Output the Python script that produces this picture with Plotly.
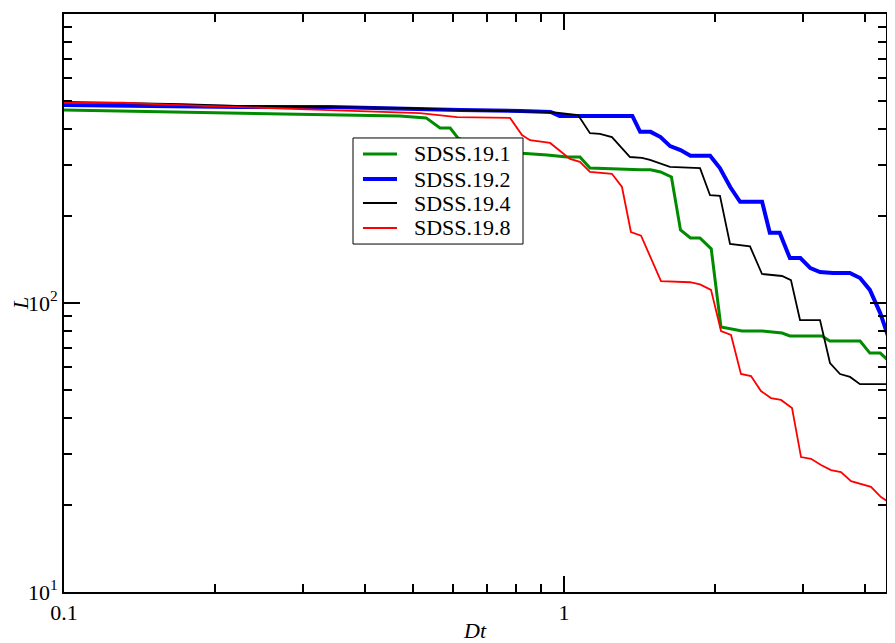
import plotly.graph_objects as go

# Dt values and L values (log-log)
dt_191 = [0.1, 0.157, 0.223, 0.328, 0.47, 0.53, 0.565, 0.592, 0.614, 0.68, 0.76, 0.824,
          0.925, 1.014, 1.076, 1.127, 1.42, 1.49, 1.56, 1.64, 1.71, 1.79, 1.87, 1.97,
          2.06, 2.27, 2.49, 2.73, 2.83, 3.28, 3.40, 3.91, 4.09, 4.29, 4.51]
L_191 = [465, 459, 454, 451, 444, 437, 403, 403, 372, 344, 336, 330,
         325, 320, 320, 293, 289, 289, 284, 273, 179, 168, 168, 154,
         82.6, 80, 80, 78.7, 76.9, 76.9, 73.9, 73.9, 67.1, 67.1, 62]

dt_192 = [0.1, 0.131, 0.223, 0.34, 0.47, 0.62, 0.82, 0.94, 0.98, 1.37, 1.42, 1.49,
          1.56, 1.63, 1.71, 1.79, 1.96, 2.05, 2.15, 2.25, 2.49, 2.58, 2.70, 2.83,
          2.97, 3.11, 3.25, 3.45, 3.73, 3.91, 4.09, 4.29, 4.51]
L_192 = [484, 481, 477, 477, 469, 465, 462, 458, 444, 444, 391, 391,
         375, 349, 338, 323, 323, 293, 252, 224, 224, 175, 175, 143,
         143, 132, 128, 127, 127, 122, 111, 92.3, 71.6]

dt_194 = [0.1, 0.172, 0.22, 0.47, 0.628, 0.938, 1.067, 1.127, 1.18, 1.247, 1.355, 1.432,
          1.486, 1.629, 1.871, 1.959, 2.051, 2.148, 2.355, 2.489, 2.729, 2.844, 2.965,
          3.251, 3.404, 3.565, 3.733, 3.908, 4.51]
L_194 = [496, 488, 481, 473, 465, 458, 447, 387, 385, 375, 320, 318,
         313, 296, 293, 236, 235, 160, 157, 126, 124, 120, 87.3,
         87.3, 62, 56.8, 55.5, 52.4, 52.4]

dt_198 = [0.1, 0.131, 0.161, 0.22, 0.34, 0.515, 0.611, 0.78, 0.824, 0.855, 0.938, 1.028,
          1.076, 1.127, 1.247, 1.306, 1.361, 1.426, 1.563, 1.786, 1.871, 1.968, 2.061,
          2.158, 2.259, 2.366, 2.477, 2.594, 2.716, 2.858, 2.979, 3.119, 3.266, 3.42,
          3.581, 3.75, 4.111, 4.305, 4.51]
L_198 = [493, 493, 486, 476, 465, 454, 440, 437, 381, 366, 358, 315,
         308, 284, 280, 252, 176, 171, 119, 118, 116, 111, 80,
         77.5, 56.8, 55.9, 49.6, 46.9, 46.2, 43.3, 29.3, 28.9, 27.5, 26.4,
         26.0, 24.2, 23.1, 21.3, 20.2]

names = ["SDSS.19.1", "SDSS.19.2", "SDSS.19.4", "SDSS.19.8"]

x_major = [0.1, 1]
x_major_text = ["0.1", "1"]
x_minor = [0.2, 0.3, 0.4, 0.5, 0.6, 0.7, 0.8, 0.9, 2, 3, 4]
y_major = [10, 100, 1000]
y_major_text = ["10<sup>1</sup>", "10<sup>2</sup>", "10<sup>3</sup>"]
y_minor = [20, 30, 40, 50, 60, 70, 80, 90, 200, 300, 400, 500, 600, 700, 800, 900]

font = "Liberation Serif"
colors = ["#008b00", "#0000ff", "#000000", "#ff0000"]
widths = [3, 4, 1.8, 1.8]

fig = go.Figure()
for xs, ys, name, color, w in zip([dt_191, dt_192, dt_194, dt_198],
                                  [L_191, L_192, L_194, L_198], names, colors, widths):
    fig.add_trace(go.Scatter(x=xs, y=ys, name=name, mode="lines",
                             line=dict(color=color, width=w)))

axis_common = dict(
    type="log", showgrid=False, zeroline=False,
    showline=True, linecolor="black", linewidth=2, mirror="ticks",
    ticks="inside", ticklen=16, tickwidth=1.5, tickcolor="black",
    tickfont=dict(family=font, size=22, color="black"),
)

fig.update_xaxes(
    **axis_common, range=[-1, 0.644],
    tickmode="array", tickvals=x_major, ticktext=x_major_text,
    minor=dict(tickmode="array", tickvals=x_minor, ticks="inside", ticklen=8,
               tickwidth=1.5, tickcolor="black", showgrid=False),
    title=dict(text="<i>Dt</i>", font=dict(family=font, size=22, color="black"), standoff=6),
)
fig.update_yaxes(
    **axis_common, range=[1, 3],
    tickmode="array", tickvals=y_major, ticktext=y_major_text,
    minor=dict(tickmode="array", tickvals=y_minor, ticks="inside", ticklen=8,
               tickwidth=1.5, tickcolor="black", showgrid=False),
    title=dict(text="<i>L</i>", font=dict(family=font, size=22, color="black"), standoff=18),
)

# legend box drawn by hand so rows sit as tight as in the reference
lx0, lx1, ly0, ly1 = 0.3516, 0.5584, 0.602, 0.7855
row_y = [0.7578, 0.7145, 0.6730, 0.6298]
fig.add_shape(type="rect", xref="paper", yref="paper", x0=lx0, x1=lx1, y0=ly0, y1=ly1,
              fillcolor="white", line=dict(color="black", width=1))
for name, color, w, ry in zip(names, colors, widths, row_y):
    fig.add_shape(type="line", xref="paper", yref="paper", x0=0.3637, x1=0.4051,
                  y0=ry, y1=ry, line=dict(color=color, width=w))
    fig.add_annotation(text=name, xref="paper", yref="paper", x=0.4236, y=ry,
                       xanchor="left", yanchor="middle", showarrow=False,
                       font=dict(family=font, size=22, color="black"))

# page body adds an 8px margin and the right edge gets clipped, so size to fit
fig.update_layout(
    width=879, height=635,
    margin=dict(l=56, r=1, t=6, b=51, autoexpand=False),
    plot_bgcolor="white", paper_bgcolor="white",
    showlegend=False,
)

fig.write_html("out.html")
